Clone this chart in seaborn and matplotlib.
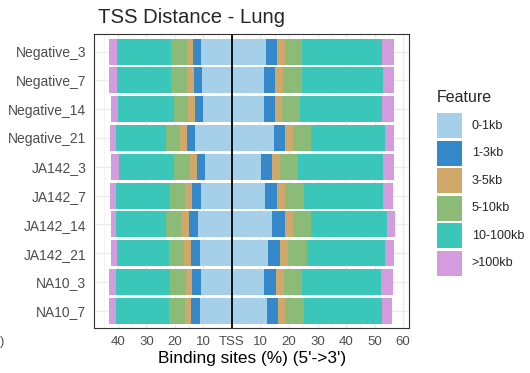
import numpy as np
import pandas as pd
import matplotlib
matplotlib.use("Agg")
import matplotlib.pyplot as plt
import seaborn as sns
from matplotlib.patches import Rectangle
from matplotlib.ticker import MultipleLocator

sns.set_style("white")
plt.rcParams['font.family'] = ['Liberation Sans', 'DejaVu Sans']

samples = ["Negative_3", "Negative_7", "Negative_14", "Negative_21", "JA142_3",
           "JA142_7", "JA142_14", "JA142_21", "NA10_3", "NA10_7"]
features = ["0-1kb", "1-3kb", "3-5kb", "5-10kb", "10-100kb", ">100kb"]
colors = ["#A6CFEA", "#3588C9", "#CFA86A", "#8CBB78", "#3AC6B8", "#D49CDF"]

# upstream (left of TSS), percent of binding sites
up_0_1kb = [10.7, 10.4, 10.1, 12.8, 9.3, 10.9, 11.9, 11.3, 10.9, 11.3]
up_1_3kb = [3.0, 2.9, 2.9, 3.1, 3.1, 3.1, 3.3, 3.1, 3.0, 3.1]
up_3_5kb = [2.2, 2.4, 2.3, 2.3, 2.3, 2.4, 2.6, 2.4, 2.3, 2.1]
up_5_10kb = [5.5, 5.7, 5.2, 5.0, 5.5, 5.2, 5.2, 5.2, 5.5, 5.5]
up_10_100kb = [19.0, 19.0, 19.6, 17.5, 19.6, 19.0, 17.7, 18.3, 18.9, 18.6]
up_100kb = [2.6, 2.6, 2.3, 2.0, 2.6, 2.3, 1.7, 2.0, 2.4, 2.4]

# downstream (right of TSS)
down_0_1kb = [11.8, 11.1, 11.3, 14.7, 10.1, 11.7, 14.0, 12.6, 11.3, 12.2]
down_1_3kb = [4.0, 4.1, 3.8, 4.0, 4.0, 4.2, 4.7, 4.4, 4.2, 4.1]
down_3_5kb = [2.7, 2.7, 2.4, 2.7, 2.8, 2.7, 2.7, 2.8, 2.7, 2.4]
down_5_10kb = [6.1, 6.6, 6.3, 6.2, 6.4, 6.5, 6.4, 6.4, 6.3, 6.4]
down_10_100kb = [28.1, 28.6, 28.9, 26.2, 29.5, 27.7, 26.5, 27.5, 27.7, 27.6]
down_100kb = [4.1, 3.6, 4.1, 2.9, 4.2, 3.6, 2.9, 3.3, 4.2, 3.5]

xtick_vals = [-40, -30, -20, -10, 0, 10, 20, 30, 40, 50, 60]
xtick_labels = ["40", "30", "20", "10", "TSS", "10", "20", "30", "40", "50", "60"]

up = [up_0_1kb, up_1_3kb, up_3_5kb, up_5_10kb, up_10_100kb, up_100kb]
down = [down_0_1kb, down_1_3kb, down_3_5kb, down_5_10kb, down_10_100kb, down_100kb]

rows = []
for side, sign, data in [("up", -1, up), ("down", 1, down)]:
    for f, vals in zip(features, data):
        for s, v in zip(samples, vals):
            rows.append(dict(sample=s, feature=f, side=side, sign=sign, value=v))
df = pd.DataFrame(rows)
df["feature"] = pd.Categorical(df["feature"], categories=features, ordered=True)
df = df.sort_values(["side", "sample", "feature"])
df["end"] = df.groupby(["side", "sample"], observed=True)["value"].cumsum() * df["sign"]

W, H = 530, 373
fig = plt.figure(figsize=(W / 100, H / 100), dpi=100)
ax = fig.add_axes([94 / W, 1 - 328 / H, (409.3 - 94) / W, (328 - 34.3) / H])

for side in ["up", "down"]:
    for f, c in reversed(list(zip(features, colors))):
        sub = df[(df["side"] == side) & (df["feature"] == f)]
        sns.barplot(data=sub, x="end", y="sample", order=samples, color=c,
                    saturation=1, width=0.9, orient="h", errorbar=None, ax=ax,
                    linewidth=0, zorder=2)

ax.axvline(0, color="black", lw=1.3, zorder=5)

ax.set_xlim(-48.4, 62.2)
ax.set_ylim(9.6, -0.6)
ax.set_xticks(xtick_vals)
ax.set_xticklabels(xtick_labels)
ax.xaxis.set_minor_locator(MultipleLocator(5))
ax.set_axisbelow(True)
ax.grid(True, which="major", color="#EBEBEB", lw=1.0, zorder=0)
ax.grid(True, which="minor", axis="x", color="#F2F2F2", lw=0.6, zorder=0)
ax.tick_params(axis="both", which="major", length=3.6, width=0.8, color="#333333",
               labelcolor="#4D4D4D", pad=2)
ax.tick_params(axis="x", labelsize=9.5)
ax.tick_params(axis="y", labelsize=10)
ax.tick_params(axis="x", which="minor", length=0)
for sp in ax.spines.values():
    sp.set_visible(True)
    sp.set_color("#333333")
    sp.set_linewidth(0.8)

ax.set_ylabel("")
ax.set_xlabel("Binding sites (%) (5'->3')", fontsize=12.4, color="black", labelpad=2)
ax.set_title("TSS Distance - Lung", fontsize=14.6, loc="left", x=0.012, pad=8)

# legend drawn in figure pixel coordinates
fig.text(437 / W, 1 - 97 / H, "Feature", fontsize=11.5, ha="left", va="center")
for i, (f, c) in enumerate(zip(features, colors)):
    top = 113.3 + i * 27.5
    fig.add_artist(Rectangle((436.7 / W, 1 - (top + 25) / H), 25 / W, 25 / H,
                             facecolor=c, edgecolor="none", transform=fig.transFigure))
    fig.text(471.7 / W, 1 - (top + 12.5) / H, f, fontsize=9, ha="left", va="center")

fig.text(0.0, 1 - 342 / H, ")", fontsize=9.3, color="#4D4D4D", ha="left", va="center")

fig.savefig("out.png", dpi=100)
